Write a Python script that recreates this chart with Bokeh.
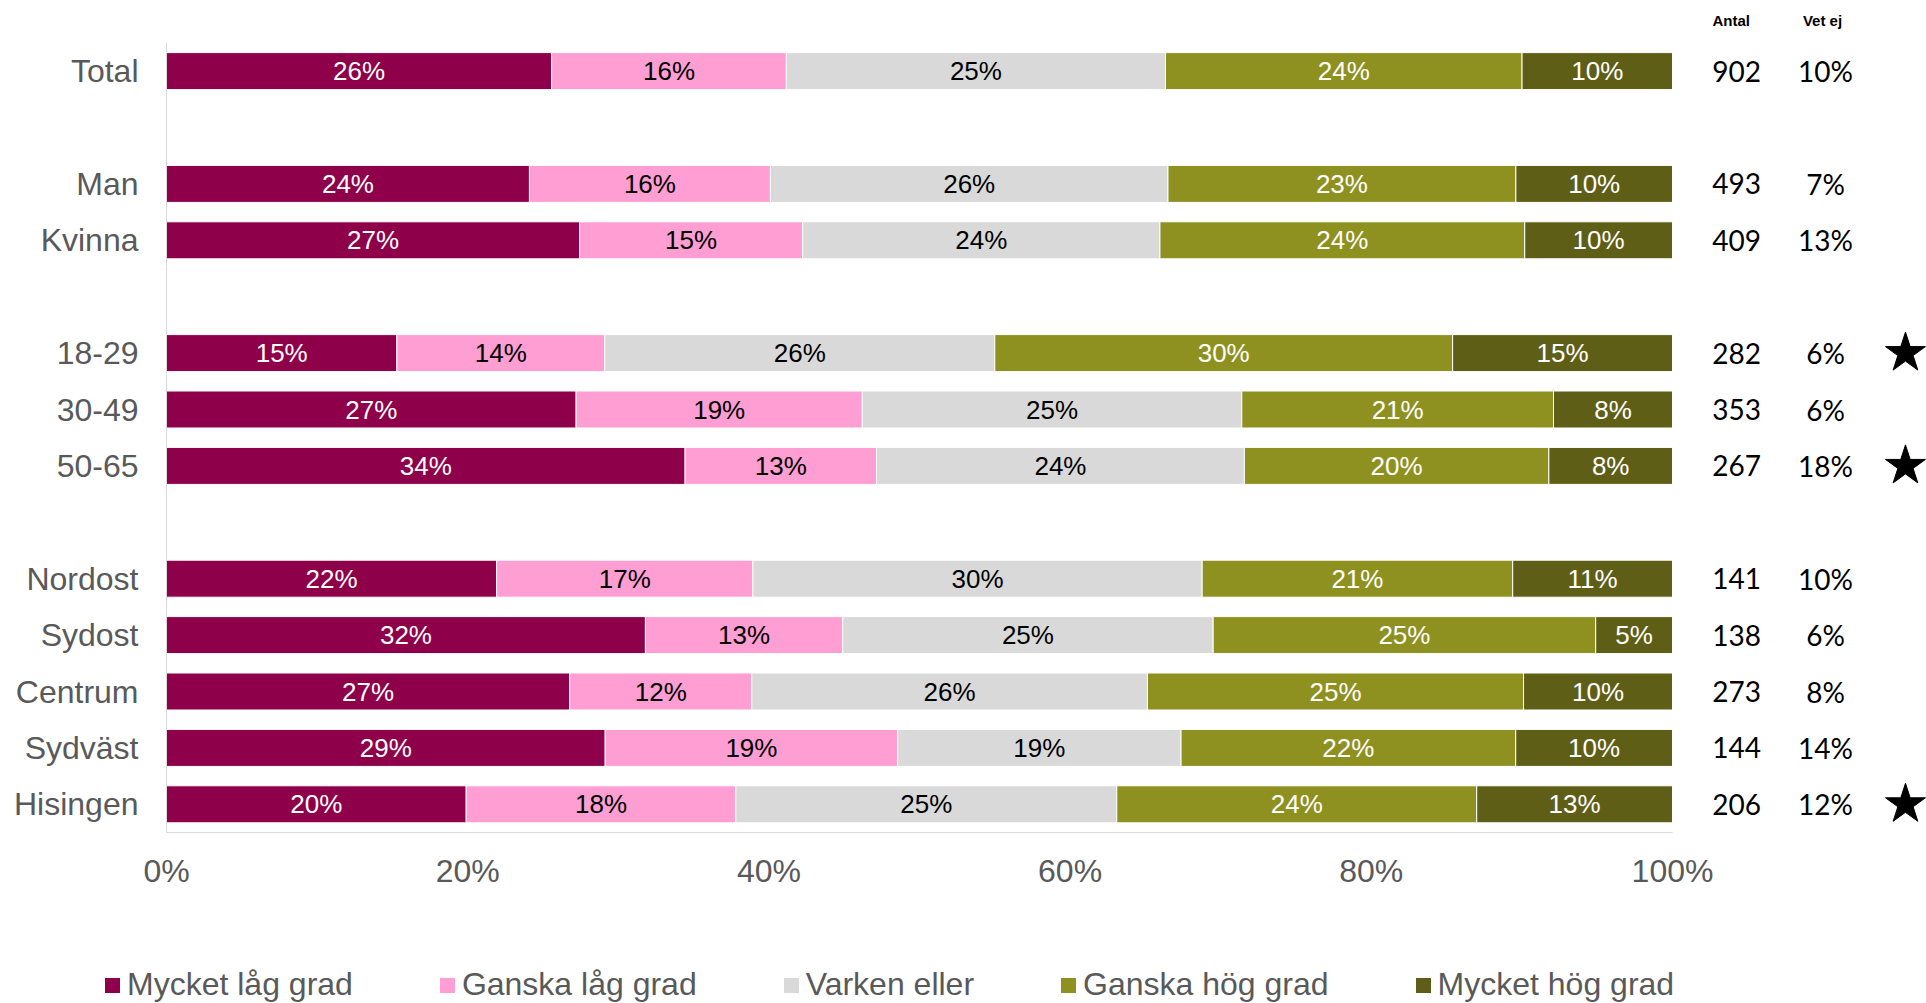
from bokeh.plotting import figure
from bokeh.models import (ColumnDataSource, Range1d, FixedTicker, PrintfTickFormatter,
                          Legend, LegendItem)
from bokeh.core.properties import value
from bokeh.embed import file_html
from bokeh.resources import INLINE

# ---------------- data ----------------
groups = [["Total"], ["Man", "Kvinna"], ["18-29", "30-49", "50-65"],
          ["Nordost", "Sydost", "Centrum", "Sydväst", "Hisingen"]]
series_names = ["Mycket låg grad", "Ganska låg grad", "Varken eller",
                "Ganska hög grad", "Mycket hög grad"]
mycket_lag = [25.6, 24.1, 27.4, 15.3, 27.2, 34.4, 21.9, 31.8, 26.8, 29.1, 19.9]
ganska_lag = [15.6, 16.0, 14.8, 13.8, 19.0, 12.7, 17.0, 13.1, 12.1, 19.4, 17.9]
varken     = [25.2, 26.4, 23.7, 25.9, 25.2, 24.4, 29.8, 24.6, 26.3, 18.8, 25.3]
ganska_hog = [23.7, 23.1, 24.2, 30.4, 20.7, 20.2, 20.6, 25.4, 25.0, 22.2, 23.9]
mycket_hog = [10.0, 10.4, 9.8, 14.6, 7.9, 8.2, 10.6, 5.1, 9.9, 10.4, 13.0]
antal  = [902, 493, 409, 282, 353, 267, 141, 138, 273, 144, 206]
vet_ej = [10, 7, 13, 6, 6, 18, 10, 6, 8, 14, 12]
stars  = [False, False, False, True, False, True, False, False, False, False, True]
x_ticks = [0, 20, 40, 60, 80, 100]

# ---------------- styles ----------------
colors = ["#8E0049", "#FF9ED2", "#D9D9D9", "#8E9120", "#5F5E16"]
label_colors = ["white", "black", "black", "white", "white"]
GREY = "#595959"
SANS = "Liberation Sans"

# slot positions: one empty slot between groups
categories, slots = [], []
s = 0
for gi, g in enumerate(groups):
    if gi > 0:
        s += 1
    for c in g:
        categories.append(c)
        slots.append(s)
        s += 1

W = 1926
H1, H2 = 950, 53
BL = 166
FRAME_H = 832
px_per_unit = 15.06
px_per_slot = 56.4
frame_w = W - BL
x_end = frame_w / px_per_unit
y_bottom = slots[-1] + 0.5
y_top = y_bottom - FRAME_H / px_per_slot

p = figure(width=W, height=H1, output_backend="svg", toolbar_location=None,
           x_range=Range1d(0, x_end), y_range=Range1d(y_bottom, y_top),
           min_border_left=BL, min_border_right=0, min_border_top=0,
           min_border_bottom=H1 - FRAME_H)
p.outline_line_color = None
p.grid.visible = False
p.background_fill_color = "white"

series = [mycket_lag, ganska_lag, varken, ganska_hog, mycket_hog]
n = len(categories)
totals = [sum(sr[i] for sr in series) for i in range(n)]
cum = [0.0] * n
for k, sr in enumerate(series):
    left = [cum[i] for i in range(n)]
    width = [sr[i] * 100.0 / totals[i] for i in range(n)]
    right = [left[i] + width[i] for i in range(n)]
    cum = right
    src = ColumnDataSource(dict(y=slots, left=left, right=right,
                                xc=[(l + r) / 2 for l, r in zip(left, right)],
                                txt=[f"{round(v)}%" for v in sr]))
    p.hbar(y="y", left="left", right="right", height=0.656, source=src,
           fill_color=colors[k], line_color="white", line_width=1)
    p.text(x="xc", y="y", text="txt", source=src, text_align="center",
           text_baseline="middle", text_color=label_colors[k],
           text_font=value(SANS), text_font_size="26px")

# right-hand columns
rsrc = ColumnDataSource(dict(y=slots, antal=[str(a) for a in antal],
                             vet=[f"{v}%" for v in vet_ej]))
p.text(x=104.25, y="y", text="antal", source=rsrc, text_align="center",
       text_baseline="middle", text_color="black", text_font=value("Lato"),
       text_font_size="28px")
p.text(x=110.16, y="y", text="vet", source=rsrc, text_align="center",
       text_baseline="middle", text_color="black", text_font=value("Lato"),
       text_font_size="28px")
star_y = [slots[i] for i in range(n) if stars[i]]
p.scatter(x=[115.47] * len(star_y), y=star_y, marker="star", size=42,
          fill_color="black", line_color="black")
p.text(x=[103.9, 109.96], y=[-0.895, -0.895], text=["Antal", "Vet ej"],
       text_align="center", text_baseline="middle", text_color="black",
       text_font=value(SANS), text_font_size="15px", text_font_style="bold")

# axes
xa = p.xaxis[0]
xa.ticker = FixedTicker(ticks=x_ticks)
xa.formatter = PrintfTickFormatter(format="%d%%")
xa.bounds = (0, 100)
xa.axis_line_color = "#D9D9D9"
xa.major_tick_line_color = None
xa.minor_tick_line_color = None
xa.major_tick_out = 0
xa.major_label_standoff = 20
xa.major_label_text_font = SANS
xa.major_label_text_font_size = "32px"
xa.major_label_text_color = GREY

ya = p.yaxis[0]
ya.ticker = FixedTicker(ticks=slots)
ya.major_label_overrides = {sl: c for sl, c in zip(slots, categories)}
ya.bounds = (-0.5, slots[-1] + 0.5)
ya.axis_line_color = "#D9D9D9"
ya.major_tick_line_color = None
ya.minor_tick_line_color = None
ya.major_tick_out = 0
ya.major_label_standoff = 28
ya.major_label_text_font = SANS
ya.major_label_text_font_size = "32px"
ya.major_label_text_color = GREY

# legend strip (separate root so its frame starts at the page's left edge)
q = figure(width=W, height=H2, output_backend="svg", toolbar_location=None,
           x_range=Range1d(0, 1), y_range=Range1d(0, 1),
           x_axis_location=None, y_axis_location=None,
           min_border_left=0, min_border_right=0, min_border_top=0,
           min_border_bottom=0)
q.grid.visible = False
q.outline_line_color = None
items = []
for nm, col in zip(series_names, colors):
    r = q.hbar(y=[-5], left=[0], right=[0.1], height=0.5, fill_color=col,
               line_color="white")
    items.append(LegendItem(label=nm, renderers=[r]))
legend = Legend(items=items, orientation="horizontal", location=(102, 0),
                glyph_width=20, glyph_height=20, label_standoff=5, spacing=84,
                padding=0, margin=0, border_line_color=None,
                background_fill_alpha=0, label_text_font=SANS,
                label_text_font_size="32px", label_text_color=GREY)
q.add_layout(legend)

open("out.html", "w").write(file_html([p, q], INLINE))
